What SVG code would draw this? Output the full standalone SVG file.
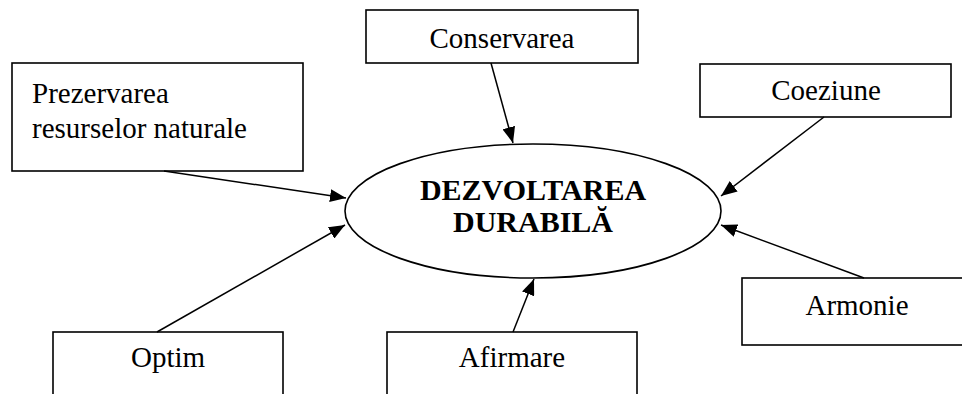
<svg xmlns="http://www.w3.org/2000/svg" width="962" height="394" viewBox="0 0 962 394">
<defs>
<style>
.box{fill:#fff;stroke:#000;stroke-width:1.6}
.t{font-family:"Liberation Serif","Times New Roman",serif;font-size:29px;fill:#000}
.c{text-anchor:middle}
.b{font-weight:bold;font-size:30px}
.edge{stroke:#000;stroke-width:1.5;fill:none;marker-end:url(#ah)}
</style>
<marker id="ah" markerUnits="userSpaceOnUse" markerWidth="17" markerHeight="13" refX="16" refY="6.5" orient="auto">
<path d="M0,0 L16,6.5 L0,13 z" fill="#000"/>
</marker>
</defs>
<rect width="962" height="394" fill="#fff"/>
<g id="conservarea"><rect class="box" x="366" y="10" width="272" height="53"/><text class="t c" x="502" y="48">Conservarea</text></g>
<g id="prezervarea"><rect class="box" x="12" y="63" width="291" height="108"/><text class="t" x="32" y="103">Prezervarea</text><text class="t" x="32" y="138">resurselor naturale</text></g>
<g id="coeziune"><rect class="box" x="700" y="64" width="251" height="53"/><text class="t c" x="826" y="100">Coeziune</text></g>
<g id="dezvoltarea"><ellipse cx="533" cy="211" rx="188" ry="67" fill="#fff" stroke="#000" stroke-width="1.6"/><text class="t c b" x="533" y="200">DEZVOLTAREA</text><text class="t c b" x="533" y="232">DURABILĂ</text></g>
<g id="armonie"><rect class="box" x="742" y="278" width="230" height="67"/><text class="t c" x="857" y="315">Armonie</text></g>
<g id="optim"><rect class="box" x="53" y="332" width="230" height="80"/><text class="t c" x="168" y="367">Optim</text></g>
<g id="afirmare"><rect class="box" x="387" y="332" width="250" height="80"/><text class="t c" x="512" y="367">Afirmare</text></g>
<g id="connectors">
<line class="edge" x1="491" y1="63" x2="513" y2="143"/>
<line class="edge" x1="164" y1="171" x2="346" y2="198"/>
<line class="edge" x1="824" y1="117" x2="721" y2="196"/>
<line class="edge" x1="864" y1="278" x2="721" y2="225"/>
<line class="edge" x1="513" y1="332" x2="534" y2="279"/>
<line class="edge" x1="157" y1="332" x2="345" y2="225"/>
</g>
</svg>
